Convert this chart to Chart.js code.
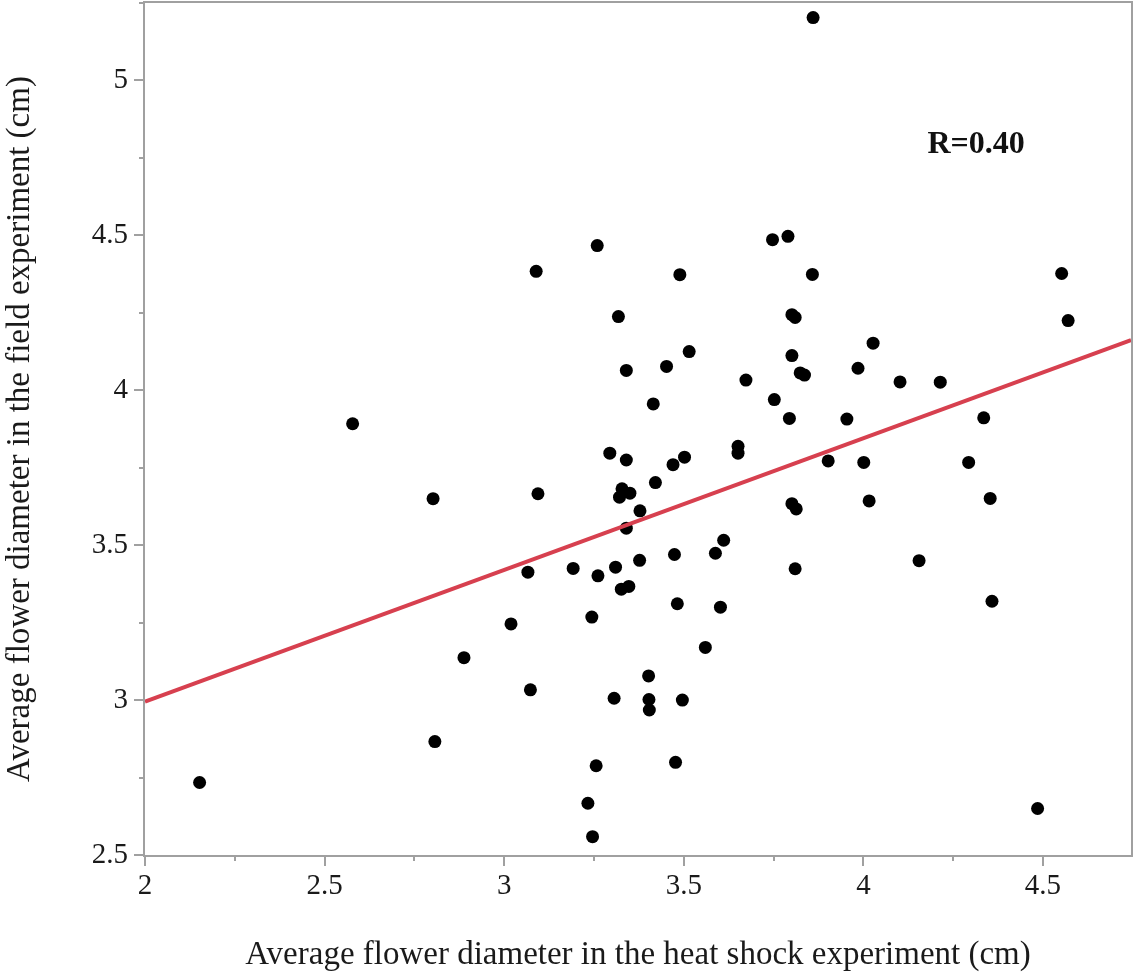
<!DOCTYPE html>
<html><head><meta charset="utf-8">
<script src="https://cdn.jsdelivr.net/npm/chart.js@4/dist/chart.umd.min.js"></script>
<style>html,body{margin:0;padding:0;background:#fff;} #wrap{width:1133px;height:979px;position:relative;} canvas{display:block;}</style>
</head><body><div id="wrap"><canvas id="c" width="1133" height="979"></canvas></div>
<script>
// Average flower diameter (cm) in the heat shock experiment (x) and field experiment (y)
const heatShockX = [2.152, 2.578, 2.802, 2.807, 2.888, 3.019, 3.066, 3.073, 3.089, 3.094,
  3.233, 3.246, 3.256, 3.259, 3.244, 3.192, 3.261, 3.294, 3.306, 3.310,
  3.318, 3.321, 3.328, 3.326, 3.340, 3.340, 3.340, 3.347, 3.350, 3.378,
  3.377, 3.402, 3.403, 3.404, 3.415, 3.421, 3.452, 3.470, 3.474, 3.477,
  3.482, 3.489, 3.496, 3.502, 3.515, 3.560, 3.588, 3.602, 3.611, 3.651,
  3.651, 3.673, 3.747, 3.752, 3.790, 3.794, 3.801, 3.810, 3.801, 3.824,
  3.836, 3.801, 3.813, 3.810, 3.858, 3.860, 3.902, 3.954, 3.985, 4.001,
  4.016, 4.027, 4.102, 4.155, 4.214, 4.293, 4.335, 4.353, 4.358, 4.485,
  4.552, 4.570];
const fieldY = [2.734, 3.892, 3.650, 2.866, 3.137, 3.246, 3.413, 3.033, 4.384, 3.666,
  2.667, 2.559, 2.788, 4.467, 3.268, 3.425, 3.401, 3.797, 3.006, 3.429,
  4.238, 3.655, 3.682, 3.358, 4.064, 3.775, 3.555, 3.367, 3.668, 3.611,
  3.451, 3.078, 3.002, 2.968, 3.956, 3.702, 4.077, 3.760, 3.470, 2.799,
  3.311, 4.373, 3.000, 3.784, 4.125, 3.170, 3.474, 3.300, 3.516, 3.819,
  3.797, 4.033, 4.486, 3.970, 4.497, 3.909, 4.244, 4.235, 4.112, 4.056,
  4.049, 3.634, 3.617, 3.424, 4.374, 5.203, 3.772, 3.907, 4.071, 3.767,
  3.643, 4.152, 4.027, 3.450, 4.026, 3.767, 3.911, 3.651, 3.319, 2.650,
  4.377, 4.225];
// Fitted regression line end points
const fitX = [2, 4.745];
const fitY = [2.995, 4.162];
// Axis ranges and tick labels
const xRange = [2, 4.745];
const yRange = [2.5, 5.25];
const xTickValues = [2, 2.5, 3, 3.5, 4, 4.5];
const yTickValues = [2.5, 3, 3.5, 4, 4.5, 5];
const xTitle = 'Average flower diameter in the heat shock experiment (cm)';
const yTitle = 'Average flower diameter in the field experiment (cm)';
const rText = 'R=0.40';
const rAt = [4.314, 4.793];

const SERIF = "'Liberation Serif', 'DejaVu Serif', serif";
const AXIS_COLOR = '#a0a0a0';

const framePlugin = {
  id: 'frameTicks',
  afterDraw(chart) {
    const {ctx, chartArea: a, scales: {x, y}} = chart;
    ctx.save();
    ctx.strokeStyle = AXIS_COLOR;
    ctx.lineWidth = 2;
    ctx.strokeRect(a.left - 1, a.top - 1, a.right - a.left + 2, a.bottom - a.top + 2);
    ctx.beginPath();
    const xs = [...xTickValues];
    for (let i = 0; i < xTickValues.length; i++) xs.push(xTickValues[i] + 0.25);
    xs.forEach(v => {
      if (v > xRange[1]) return;
      const px = Math.round(x.getPixelForValue(v));
      const major = xTickValues.includes(v);
      ctx.moveTo(px, a.bottom); ctx.lineTo(px, a.bottom + (major ? 11 : 6));
    });
    const ys = [...yTickValues];
    for (let i = 0; i < yTickValues.length; i++) ys.push(yTickValues[i] + 0.25);
    ys.forEach(v => {
      if (v > yRange[1]) return;
      const py = Math.round(y.getPixelForValue(v));
      const major = yTickValues.includes(v);
      ctx.moveTo(a.left, py); ctx.lineTo(a.left - (major ? 11 : 6), py);
    });
    ctx.stroke();
    ctx.fillStyle = '#111';
    ctx.font = "bold 32px " + SERIF;
    ctx.textAlign = 'center';
    ctx.textBaseline = 'middle';
    ctx.fillText(rText, x.getPixelForValue(rAt[0]), y.getPixelForValue(rAt[1]));
    ctx.restore();
  }
};

function zeroPad(s) { s.paddingTop = 0; s.paddingBottom = 0; s.paddingLeft = 0; s.paddingRight = 0; }

new Chart(document.getElementById('c'), {
  type: 'scatter',
  data: {
    datasets: [
      {
        label: 'fit',
        data: fitX.map((v, i) => ({x: v, y: fitY[i]})),
        showLine: true,
        borderColor: '#d7404f',
        borderWidth: 4,
        pointRadius: 0,
        order: 0
      },
      {
        label: 'lines',
        data: heatShockX.map((v, i) => ({x: v, y: fieldY[i]})),
        backgroundColor: '#000',
        borderWidth: 0,
        pointRadius: 6.5,
        order: 1
      }
    ]
  },
  options: {
    responsive: false,
    animation: false,
    devicePixelRatio: 1,
    layout: {autoPadding: false, padding: {top: 3, right: 2, left: 0, bottom: 0}},
    plugins: {legend: {display: false}, tooltip: {enabled: false}},
    scales: {
      x: {
        type: 'linear', min: xRange[0], max: xRange[1],
        afterBuildTicks: s => { s.ticks = xTickValues.map(v => ({value: v})); },
        afterFit: s => { s.height = 124; zeroPad(s); },
        grid: {display: false, drawTicks: false},
        border: {display: false},
        ticks: {font: {family: SERIF, size: 29}, color: '#1a1a1a', padding: 14, maxRotation: 0, autoSkip: false,
          callback: v => String(v)},
        title: {display: true, text: xTitle, font: {family: SERIF, size: 33}, color: '#1a1a1a', padding: {top: 0, bottom: 4}}
      },
      y: {
        type: 'linear', min: yRange[0], max: yRange[1],
        afterBuildTicks: s => { s.ticks = yTickValues.map(v => ({value: v})); },
        afterFit: s => { s.width = 145; zeroPad(s); },
        grid: {display: false, drawTicks: false},
        border: {display: false},
        ticks: {font: {family: SERIF, size: 29}, color: '#1a1a1a', padding: 17, autoSkip: false,
          callback: v => String(v)},
        title: {display: true, text: yTitle, font: {family: SERIF, size: 33}, color: '#1a1a1a', padding: {top: 1, bottom: 0}}
      }
    }
  },
  plugins: [framePlugin]
});
</script>
</body></html>
